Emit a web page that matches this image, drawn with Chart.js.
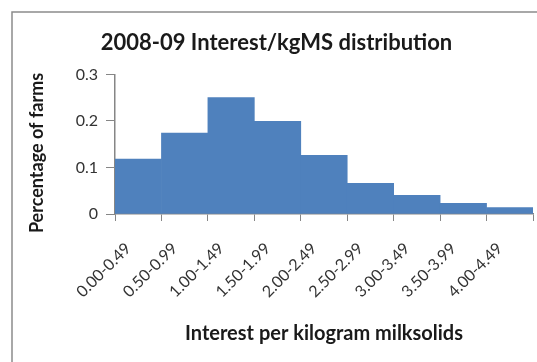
<!DOCTYPE html>
<html>
<head>
<meta charset="utf-8">
<script src="https://cdn.jsdelivr.net/npm/chart.js@4/dist/chart.umd.min.js"></script>
<style>
  html, body { margin: 0; padding: 0; background: #ffffff; }
  #wrap { position: relative; width: 537px; height: 362px; }
</style>
</head>
<body>
<div id="wrap"><canvas id="c" width="537" height="362"></canvas></div>
<script>
// Interest per kgMS bands and the share of farms falling in each band
const categories = ['0.00-0.49', '0.50-0.99', '1.00-1.49', '1.50-1.99', '2.00-2.49',
                    '2.50-2.99', '3.00-3.49', '3.50-3.99', '4.00-4.49'];
const shares = [0.118, 0.174, 0.250, 0.199, 0.126, 0.066, 0.040, 0.023, 0.014];
const yTickValues = [0, 0.1, 0.2, 0.3];

const FONT = 'Lato, "Open Sans", sans-serif';
const AXIS_GREY = '#868686';

// Thin frame around the chart area (Excel-style chart border)
const frame = {
  id: 'frame',
  beforeDraw(chart) {
    const ctx = chart.ctx;
    ctx.save();
    ctx.fillStyle = '#ffffff';
    ctx.fillRect(0, 0, chart.width, chart.height);
    ctx.strokeStyle = '#8c8c8c';
    ctx.lineWidth = 1.5;
    ctx.beginPath();
    ctx.moveTo(12, chart.height + 2);
    ctx.lineTo(12, 12);
    ctx.lineTo(chart.width + 2, 12);
    ctx.stroke();
    ctx.restore();
  }
};

new Chart(document.getElementById('c'), {
  type: 'bar',
  data: {
    labels: categories,
    datasets: [{
      data: shares,
      backgroundColor: '#4f81bd',
      borderWidth: 0,
      barPercentage: 1.0,
      categoryPercentage: 1.0
    }]
  },
  options: {
    responsive: false,
    animation: false,
    events: [],
    layout: { padding: { left: 20, right: 4, top: 0, bottom: 0 } },
    plugins: {
      legend: { display: false },
      tooltip: { enabled: false },
      title: {
        display: true,
        text: '2008-09 Interest/kgMS distribution',
        color: '#1a1a1a',
        font: { family: FONT, size: 22, weight: 'bold' },
        padding: { top: 30, bottom: 18 }
      }
    },
    scales: {
      x: {
        offset: true,
        grid: {
          offset: true,
          drawOnChartArea: false,
          drawTicks: true,
          tickLength: 7,
          tickColor: AXIS_GREY,
          color: AXIS_GREY
        },
        border: { color: AXIS_GREY, width: 1.5 },
        ticks: {
          color: '#333333',
          font: { family: FONT, size: 16 },
          minRotation: 45,
          maxRotation: 45,
          autoSkip: false,
          padding: 18,
          labelOffset: -10
        },
        title: {
          display: true,
          text: 'Interest per kilogram milksolids',
          color: '#1a1a1a',
          font: { family: FONT, size: 20, weight: 'bold' },
          padding: { top: 0, bottom: 16 }
        },
        afterFit(scale) {
          scale.height = 148;
          scale.paddingLeft = 0;
          scale.paddingRight = 0;
        }
      },
      y: {
        min: 0,
        max: 0.3,
        afterBuildTicks(scale) { scale.ticks = yTickValues.map(v => ({ value: v })); },
        grid: {
          drawOnChartArea: false,
          drawTicks: true,
          tickLength: 9,
          tickColor: AXIS_GREY,
          color: AXIS_GREY
        },
        border: { color: AXIS_GREY, width: 1.5 },
        ticks: {
          color: '#333333',
          font: { family: FONT, size: 16 },
          padding: 8
        },
        title: {
          display: true,
          // trailing spaces nudge the rotated caption down the axis
          text: 'Percentage of farms    ',
          color: '#1a1a1a',
          font: { family: FONT, size: 18, weight: 'bold' },
          padding: { top: 6, bottom: 0 }
        },
        afterFit(scale) { scale.width = 95; }
      }
    }
  },
  plugins: [frame]
});
</script>
</body>
</html>
